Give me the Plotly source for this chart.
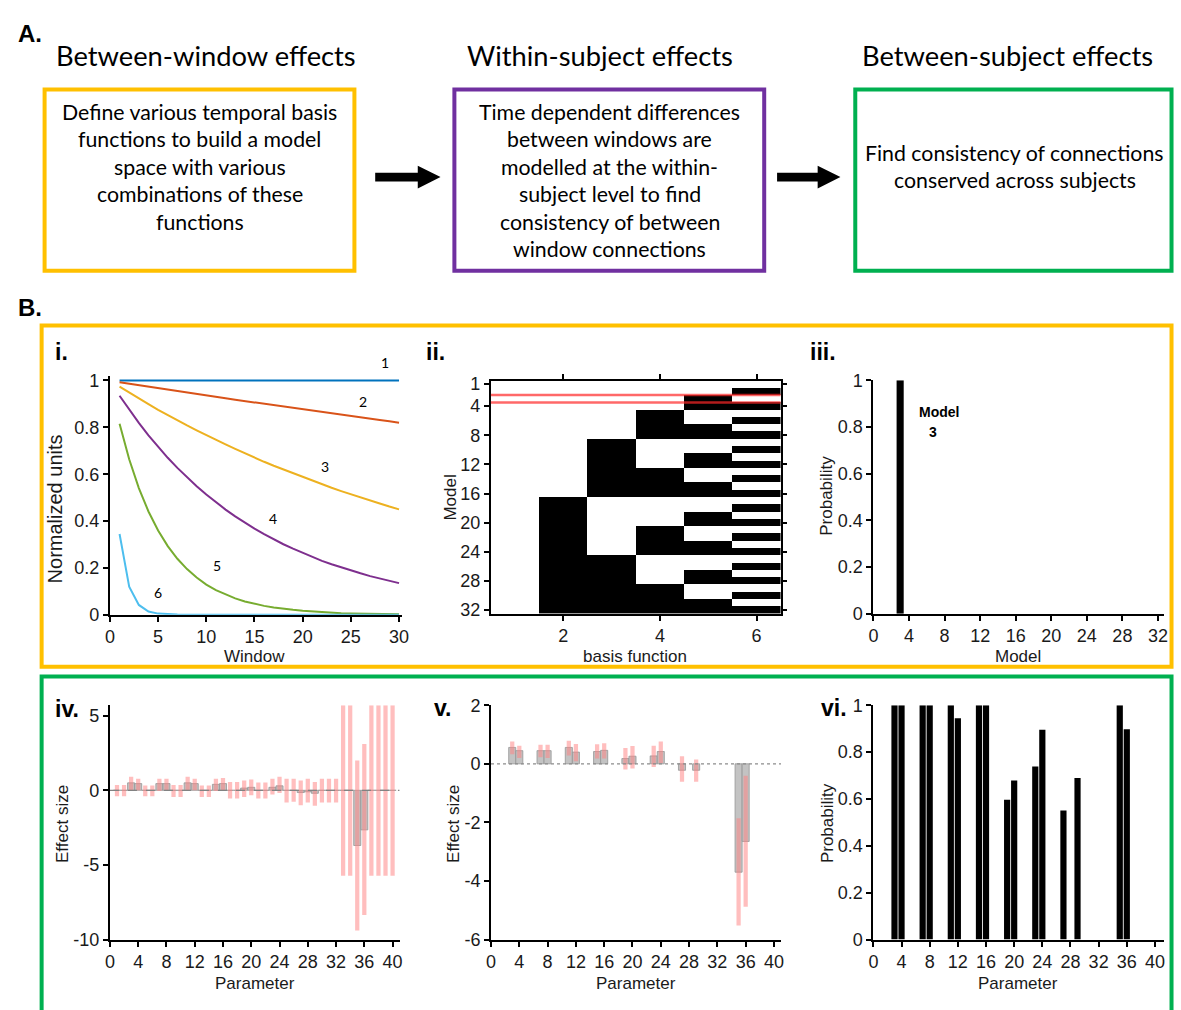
import plotly.graph_objects as go

W, H = 1181, 1010


def px(x):
    return x / W


def py(y):
    return 1 - y / H


# ---------------- DATA ----------------
windows = list(range(1, 31))
basis_1 = [1.0] * 30
basis_2 = [0.993, 0.987, 0.980, 0.974, 0.968, 0.961, 0.955, 0.949, 0.942, 0.936,
           0.930, 0.924, 0.918, 0.912, 0.906, 0.900, 0.894, 0.888, 0.882, 0.876,
           0.871, 0.865, 0.859, 0.854, 0.848, 0.842, 0.837, 0.831, 0.826, 0.820]
basis_3 = [0.974, 0.948, 0.923, 0.899, 0.875, 0.852, 0.830, 0.808, 0.787, 0.766,
           0.746, 0.727, 0.708, 0.689, 0.671, 0.653, 0.636, 0.620, 0.603, 0.588,
           0.572, 0.557, 0.542, 0.528, 0.514, 0.501, 0.488, 0.475, 0.462, 0.450]
basis_4 = [0.935, 0.875, 0.819, 0.766, 0.716, 0.670, 0.627, 0.587, 0.549, 0.513,
           0.480, 0.449, 0.420, 0.393, 0.368, 0.344, 0.322, 0.301, 0.282, 0.264,
           0.246, 0.230, 0.216, 0.202, 0.189, 0.177, 0.165, 0.154, 0.144, 0.135]
basis_5 = [0.815, 0.664, 0.541, 0.441, 0.360, 0.293, 0.239, 0.195, 0.159, 0.129,
           0.105, 0.086, 0.070, 0.057, 0.047, 0.038, 0.031, 0.025, 0.021, 0.017,
           0.014, 0.011, 0.009, 0.007, 0.006, 0.005, 0.004, 0.003, 0.003, 0.002]
basis_6 = [0.345, 0.120, 0.042, 0.014, 0.005, 0.002, 0.001, 0.0, 0.0, 0.0,
           0.0, 0.0, 0.0, 0.0, 0.0, 0.0, 0.0, 0.0, 0.0, 0.0,
           0.0, 0.0, 0.0, 0.0, 0.0, 0.0, 0.0, 0.0, 0.0, 0.0]
basis_curves = [basis_1, basis_2, basis_3, basis_4, basis_5, basis_6]
basis_colors = ["#0072BD", "#D95319", "#EDB120", "#7E2F8E", "#77AC30", "#4DBEEE"]
basis_labels = ["1", "2", "3", "4", "5", "6"]
basis_label_x = [28.5, 26.3, 22.3, 16.9, 11.1, 5.0]
basis_label_y = [1.075, 0.912, 0.632, 0.41, 0.209, 0.096]

# model space (rows = models 1..32, cols = basis functions 1..6); 1 = black
model_space = [
    [0, 0, 0, 0, 0, 0], [0, 0, 0, 0, 0, 1], [0, 0, 0, 0, 1, 0], [0, 0, 0, 0, 1, 1],
    [0, 0, 0, 1, 0, 0], [0, 0, 0, 1, 0, 1], [0, 0, 0, 1, 1, 0], [0, 0, 0, 1, 1, 1],
    [0, 0, 1, 0, 0, 0], [0, 0, 1, 0, 0, 1], [0, 0, 1, 0, 1, 0], [0, 0, 1, 0, 1, 1],
    [0, 0, 1, 1, 0, 0], [0, 0, 1, 1, 0, 1], [0, 0, 1, 1, 1, 0], [0, 0, 1, 1, 1, 1],
    [0, 1, 0, 0, 0, 0], [0, 1, 0, 0, 0, 1], [0, 1, 0, 0, 1, 0], [0, 1, 0, 0, 1, 1],
    [0, 1, 0, 1, 0, 0], [0, 1, 0, 1, 0, 1], [0, 1, 0, 1, 1, 0], [0, 1, 0, 1, 1, 1],
    [0, 1, 1, 0, 0, 0], [0, 1, 1, 0, 0, 1], [0, 1, 1, 0, 1, 0], [0, 1, 1, 0, 1, 1],
    [0, 1, 1, 1, 0, 0], [0, 1, 1, 1, 0, 1], [0, 1, 1, 1, 1, 0], [0, 1, 1, 1, 1, 1],
]
basis_functions = [1, 2, 3, 4, 5, 6]
models = list(range(1, 33))
selected_model_bounds = [2.5, 3.5]

model_prob = [0, 0, 1.0] + [0] * 29

parameters = list(range(1, 41))
iv_mean = [0, 0, 0.5, 0.45, 0, 0, 0.45, 0.45, 0, 0, 0.5, 0.45, 0, 0, 0.4, 0.45,
           0, 0, 0.15, 0.2, 0, 0, 0.2, 0.3, 0, 0, -0.15, -0.1, -0.2, 0, 0, 0,
           0, 0, -3.7, -2.65, 0, 0, 0, 0]
iv_lo = [-0.4, -0.4, -0.05, 0.0, -0.4, -0.4, -0.05, -0.05, -0.45, -0.45, 0.0, 0.0,
         -0.45, -0.45, -0.05, 0.0, -0.55, -0.55, -0.45, -0.33, -0.55, -0.55, -0.28, -0.18,
         -0.81, -0.77, -1.0, -0.81, -1.03, -0.81, -0.81, -0.81, -5.73, -5.73, -9.4, -8.36,
         -5.73, -5.73, -5.73, -5.73]
iv_hi = [0.35, 0.35, 0.9, 0.77, 0.33, 0.33, 0.77, 0.77, 0.35, 0.35, 0.9, 0.77,
         0.33, 0.33, 0.77, 0.83, 0.55, 0.55, 0.65, 0.72, 0.52, 0.52, 0.77, 0.9,
         0.77, 0.77, 0.65, 0.77, 0.55, 0.77, 0.77, 0.77, 5.7, 5.7, 2.0, 3.1,
         5.7, 5.7, 5.7, 5.7]

N = None
v_mean = [N, N, 0.56, 0.45, N, N, 0.45, 0.45, N, N, 0.56, 0.40, N, N, 0.42, 0.46,
          N, N, 0.18, 0.26, N, N, 0.27, 0.42, N, N, -0.22, N, -0.22, N, N, N,
          N, N, -3.7, -2.65, N, N, N, N]
v_lo = [N, N, 0.33, 0.2, N, N, 0.22, 0.2, N, N, 0.28, 0.09, N, N, 0.18, 0.18,
        N, N, -0.19, -0.16, N, N, -0.11, 0.03, N, N, -0.61, N, -0.61, N, N, N,
        N, N, -5.52, -4.88, N, N, N, N]
v_hi = [N, N, 0.76, 0.62, N, N, 0.65, 0.65, N, N, 0.79, 0.68, N, N, 0.67, 0.70,
        N, N, 0.54, 0.61, N, N, 0.62, 0.76, N, N, 0.26, N, 0.15, N, N, N,
        N, N, -1.86, -0.41, N, N, N, N]

vi_prob = [N, N, 1.0, 1.0, N, N, 1.0, 1.0, N, N, 1.0, 0.945, N, N, 1.0, 1.0,
           N, N, 0.597, 0.679, N, N, 0.739, 0.895, N, N, 0.551, N, 0.689, N, N, N,
           N, N, 1.0, 0.898, N, N, N, N]

# ---------------- FIGURE ----------------
TICKFONT = dict(family="Liberation Sans, Arial", size=18, color="#1a1a1a")
TITLEFONT = dict(family="Liberation Sans, Arial", size=17, color="#1a1a1a")
BOXFONT = dict(family="Lato, Open Sans", size=21.3, color="black")
HEADFONT = dict(family="Lato, Open Sans", size=27.3, color="black")

fig = go.Figure()

for vals, col in zip(basis_curves, basis_colors):
    fig.add_trace(go.Scatter(x=windows, y=vals, mode="lines",
                             line=dict(color=col, width=2),
                             xaxis="x", yaxis="y", showlegend=False))

fig.add_trace(go.Heatmap(z=model_space, x=basis_functions, y=models,
                         colorscale=[[0, "white"], [1, "black"]], zmin=0, zmax=1,
                         showscale=False, xaxis="x2", yaxis="y2"))

fig.add_trace(go.Bar(x=models, y=model_prob, width=0.8, marker=dict(color="black", line=dict(width=0)),
                     xaxis="x3", yaxis="y3", showlegend=False))

GRAY = dict(color="rgb(195,195,195)", line=dict(color="rgb(150,150,150)", width=0.8))
PINK = dict(color="rgba(255,130,130,0.52)", line=dict(width=0))

fig.add_trace(go.Bar(x=parameters, y=iv_mean, width=1.0, marker=GRAY,
                     xaxis="x4", yaxis="y4", showlegend=False))
fig.add_trace(go.Bar(x=parameters, y=[h - l for h, l in zip(iv_hi, iv_lo)], base=iv_lo, width=0.6,
                     marker=PINK, xaxis="x4", yaxis="y4", showlegend=False))

fig.add_trace(go.Bar(x=parameters, y=v_mean, width=1.0, marker=GRAY,
                     xaxis="x5", yaxis="y5", showlegend=False))
fig.add_trace(go.Bar(x=parameters,
                     y=[(h - l) if h is not None else None for h, l in zip(v_hi, v_lo)],
                     base=v_lo, width=0.6, marker=PINK,
                     xaxis="x5", yaxis="y5", showlegend=False))

fig.add_trace(go.Bar(x=parameters, y=vi_prob, width=0.88, marker=dict(color="black", line=dict(width=0)),
                     xaxis="x6", yaxis="y6", showlegend=False))


def ax(dom, rng, tickvals, ticktext=None, **kw):
    d = dict(domain=dom, range=rng, tickvals=tickvals, showgrid=False, zeroline=False,
             showline=True, linecolor="black", linewidth=2, ticks="outside", ticklen=5,
             tickwidth=2, tickcolor="black", tickfont=TICKFONT, fixedrange=True)
    d["ticktext"] = ticktext if ticktext is not None else [str(t) for t in tickvals]
    d.update(kw)
    return d


prob_ticks = [0, 0.2, 0.4, 0.6, 0.8, 1]
prob_text = ["0", "0.2", "0.4", "0.6", "0.8", "1"]
par_ticks = list(range(0, 41, 4))

layout = dict(
    width=W, height=H, margin=dict(l=0, r=0, t=0, b=0),
    paper_bgcolor="white", plot_bgcolor="rgba(0,0,0,0)",
    barmode="overlay", showlegend=False,
    xaxis=ax([px(106), px(401)], [0, 30.3], [0, 5, 10, 15, 20, 25, 30], anchor="y"),
    yaxis=ax([py(617), py(373.2)], [0, 1.02], prob_ticks, prob_text, anchor="x"),
    xaxis2=ax([px(490.7), px(783.7)], [0.5, 6.5], [2, 4, 6], anchor="y2", mirror="ticks", linewidth=1.5),
    yaxis2=ax([py(616), py(378)], [32.5, 0.5], [1, 4, 8, 12, 16, 20, 24, 28, 32], anchor="x2",
              mirror="ticks", linewidth=1.5),
    xaxis3=ax([px(877.4), px(1170.7)], [0, 32.66], list(range(0, 33, 4)), anchor="y3"),
    yaxis3=ax([py(616), py(377.7)], [0, 1], prob_ticks, prob_text, anchor="x3"),
    xaxis4=ax([px(106), px(398.7)], [0, 41], par_ticks, anchor="y4"),
    yaxis4=ax([py(948.3), py(709.3)], [-10, 5.7], [-10, -5, 0, 5], anchor="x4"),
    xaxis5=ax([px(491), px(784)], [0, 41], par_ticks, anchor="y5"),
    yaxis5=ax([py(948.3), py(709.3)], [-6, 2], [-6, -4, -2, 0, 2], anchor="x5"),
    xaxis6=ax([px(877.3), px(1171)], [0, 41.3], par_ticks, anchor="y6"),
    yaxis6=ax([py(948.3), py(709.3)], [0, 1], prob_ticks, prob_text, anchor="x6"),
)
fig.update_layout(**layout)

shapes = []


def rect(x0, y0, x1, y1, color, w=4):
    shapes.append(dict(type="rect", xref="paper", yref="paper", x0=px(x0), x1=px(x1),
                       y0=py(y1), y1=py(y0), line=dict(color=color, width=w), layer="below"))


rect(40, 81, 353, 266, "#FFC000")
rect(454, 81, 767, 266, "#7030A0")
rect(859, 81, 1178.5, 266, "#00B050")
rect(37, 322, 1178.5, 670, "#FFC000")
rect(37, 680, 1178.5, 1030, "#00B050")


def arrow(x0, x1, yc):
    xh = x1 - 23
    path = (f"M {px(x0)},{py(yc-4.5)} L {px(xh)},{py(yc-4.5)} L {px(xh)},{py(yc-11.5)} "
            f"L {px(x1)},{py(yc)} L {px(xh)},{py(yc+11.5)} L {px(xh)},{py(yc+4.5)} "
            f"L {px(x0)},{py(yc+4.5)} Z")
    shapes.append(dict(type="path", xref="paper", yref="paper", path=path,
                       fillcolor="black", line=dict(width=0)))


arrow(374, 440, 170.5)
arrow(780, 844, 170.5)

for b in selected_model_bounds:
    shapes.append(dict(type="line", xref="x2", yref="y2", x0=0.5, x1=6.5, y0=b, y1=b,
                       line=dict(color="rgba(255,40,40,0.7)", width=2.5)))
shapes.append(dict(type="line", xref="x4", yref="y4", x0=0, x1=41, y0=0, y1=0,
                   line=dict(color="rgb(130,130,130)", width=1.2, dash="dash")))
shapes.append(dict(type="line", xref="x5", yref="y5", x0=0, x1=41, y0=0, y1=0,
                   line=dict(color="rgb(140,140,140)", width=1.2, dash="dot")))
fig.update_layout(shapes=shapes)

ann = []


def text(x, y, s, font, angle=0, xanchor="center"):
    ann.append(dict(x=px(x), y=py(y), xref="paper", yref="paper", text=s, showarrow=False,
                    font=font, textangle=angle, xanchor=xanchor, yanchor="middle"))


BOLDLBL = dict(family="Liberation Sans, Arial", size=24, color="black")
text(11, 24, "<b>A.</b>", BOLDLBL, xanchor="left")
text(11, 304, "<b>B.</b>", BOLDLBL, xanchor="left")

text(203, 46, "Between-window effects", HEADFONT)
text(601, 46, "Within-subject effects", HEADFONT)
text(1013, 46, "Between-subject effects", HEADFONT)

yellow_lines = ["Define various temporal basis", "functions to build a model", "space with various",
                "combinations of these", "functions"]
purple_lines = ["Time dependent differences", "between windows are", "modelled at the within-",
                "subject level to find", "consistency of between", "window connections"]
green_lines = ["Find consistency of connections", "conserved across subjects"]
for i, s in enumerate(yellow_lines):
    text(197, 104 + 28 * i, s, BOXFONT)
for i, s in enumerate(purple_lines):
    text(611, 104 + 28 * i, s, BOXFONT)
for i, s in enumerate(green_lines):
    text(1020, 146 + 27.5 * i, s, BOXFONT)

PLBL = dict(family="Liberation Sans, Arial", size=23, color="black")
text(48, 349, "<b>i.</b>", PLBL, xanchor="left")
text(423, 349, "<b>ii.</b>", PLBL, xanchor="left")
text(811, 349, "<b>iii.</b>", PLBL, xanchor="left")
text(48, 713, "<b>iv.</b>", PLBL, xanchor="left")
text(431, 712, "<b>v.</b>", PLBL, xanchor="left")
text(822, 712, "<b>vi.</b>", PLBL, xanchor="left")

text(50, 509, "Normalized units", dict(family="Liberation Sans, Arial", size=20, color="#1a1a1a"), angle=-90)
text(252, 660, "Window", TITLEFONT)
text(450, 497, "Model", TITLEFONT, angle=-90)
text(636, 660, "basis function", TITLEFONT)
text(830, 496, "Probability", TITLEFONT, angle=-90)
text(1023, 660, "Model", TITLEFONT)
text(58, 830, "Effect size", TITLEFONT, angle=-90)
text(253, 993, "Parameter", TITLEFONT)
text(453, 830, "Effect size", TITLEFONT, angle=-90)
text(637, 993, "Parameter", TITLEFONT)
text(831, 830, "Probability", TITLEFONT, angle=-90)
text(1023, 993, "Parameter", TITLEFONT)

x_px_per_unit = (398 - 106) / 30.0
y_px_per_unit = (617 - 378) / 1.0
for lx, ly, s in zip(basis_label_x, basis_label_y, basis_labels):
    text(106 + lx * x_px_per_unit, 617 - ly * y_px_per_unit, s,
         dict(family="Lato, Open Sans", size=14, color="black"))

fig.update_layout(annotations=ann)

fig.add_annotation(x=7.42, y=0.864, xref="x3", yref="y3", text="<b>Model</b>", showarrow=False,
                   font=dict(family="Liberation Sans, Arial", size=14, color="black"))
fig.add_annotation(x=6.64, y=0.78, xref="x3", yref="y3", text="<b>3</b>", showarrow=False,
                   font=dict(family="Liberation Sans, Arial", size=14, color="black"))

fig.write_html("out.html", config={"displayModeBar": False},
               post_script="document.body.style.margin='0';document.body.style.overflow='hidden';")
